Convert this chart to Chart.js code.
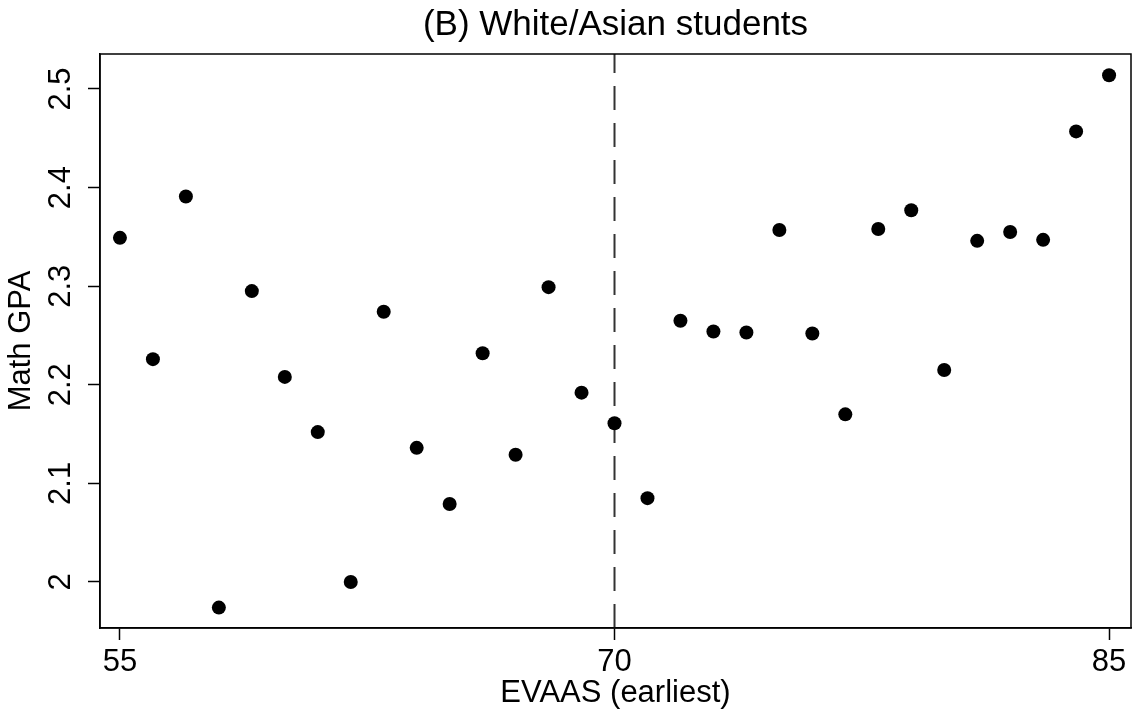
<!DOCTYPE html>
<html>
<head>
<meta charset="utf-8">
<script src="https://cdn.jsdelivr.net/npm/chart.js@4.4.1/dist/chart.umd.min.js"></script>
<style>
  html, body { margin: 0; padding: 0; background: #fff; }
</style>
</head>
<body>
<canvas id="grafico" width="1138" height="716"></canvas>
<script>
// EVAAS (earliest) bins and mean Math GPA per bin
const evaas = [55, 56, 57, 58, 59, 60, 61, 62, 63, 64, 65, 66, 67, 68, 69, 70,
  71, 72, 73, 74, 75, 76, 77, 78, 79, 80, 81, 82, 83, 84, 85];
const mathGpa = [2.349, 2.226, 2.391, 1.974, 2.295, 2.208, 2.152, 2.000, 2.274, 2.136,
  2.079, 2.232, 2.129, 2.299, 2.192, 2.161, 2.085, 2.265, 2.254, 2.253, 2.357,
  2.252, 2.170, 2.358, 2.377, 2.215, 2.346, 2.355, 2.347, 2.457, 2.514];
const corte = 70;
const xTicks = [55, 70, 85];
const yTicks = [2, 2.1, 2.2, 2.3, 2.4, 2.5];

const fonte = "'Liberation Sans', Arial, Helvetica, sans-serif";

// linha tracejada no corte + moldura do gráfico
const extras = {
  id: "extras",
  beforeDatasetsDraw(chart) {
    const { ctx, chartArea, scales } = chart;
    const x = scales.x.getPixelForValue(corte);
    ctx.save();
    ctx.strokeStyle = "#333";
    ctx.lineWidth = 2;
    ctx.setLineDash([24, 13]);
    ctx.beginPath();
    ctx.moveTo(x, chartArea.bottom);
    ctx.lineTo(x, chartArea.top);
    ctx.stroke();
    ctx.restore();
  },
  afterDraw(chart) {
    const { ctx, chartArea } = chart;
    ctx.save();
    ctx.strokeStyle = "#000";
    ctx.lineWidth = 1.5;
    ctx.strokeRect(chartArea.left, chartArea.top, chartArea.right - chartArea.left, chartArea.bottom - chartArea.top);
    ctx.restore();
  }
};

const pontos = evaas.map((x, i) => ({ x: x, y: mathGpa[i] }));

new Chart(document.getElementById("grafico"), {
  type: "scatter",
  data: {
    datasets: [{
      data: pontos,
      backgroundColor: "#000",
      borderWidth: 0,
      pointRadius: 7,
      pointHoverRadius: 7
    }]
  },
  options: {
    responsive: false,
    animation: false,
    devicePixelRatio: 1,
    layout: { padding: { left: 0, right: 3, top: 0, bottom: 0 } },
    plugins: {
      legend: { display: false },
      tooltip: { enabled: false },
      title: {
        display: true,
        fullSize: false,
        text: "(B) White/Asian students",
        color: "#000",
        font: { family: fonte, size: 35, weight: "normal" },
        padding: { top: 4, bottom: 8 }
      }
    },
    scales: {
      x: {
        type: "linear",
        min: 54.395,
        max: 85.665,
        afterBuildTicks: (s) => { s.ticks = xTicks.map(v => ({ value: v })); },
        afterFit: (s) => { s.height = 88; s.paddingLeft = 0; s.paddingRight = 0; },
        grid: { display: true, drawOnChartArea: false, drawTicks: true, tickLength: 12, tickColor: "#000", tickWidth: 1.5 },
        border: { display: true, color: "#000", width: 1.5 },
        ticks: { color: "#000", font: { family: fonte, size: 31 }, padding: 4, maxRotation: 0 },
        title: { display: true, text: "EVAAS (earliest)", color: "#000", font: { family: fonte, size: 31 }, padding: { top: 0, bottom: 4 } }
      },
      y: {
        type: "linear",
        min: 1.9533,
        max: 2.5355,
        afterBuildTicks: (s) => { s.ticks = yTicks.map(v => ({ value: v })); },
        afterFit: (s) => { s.width = 100; s.paddingTop = 0; s.paddingBottom = 0; },
        grid: { display: true, drawOnChartArea: false, drawTicks: true, tickLength: 12, tickColor: "#000", tickWidth: 1.5 },
        border: { display: true, color: "#000", width: 1.5 },
        ticks: {
          color: "#000",
          font: { family: fonte, size: 31 },
          padding: 5,
          minRotation: 90,
          maxRotation: 90,
          crossAlign: "center",
          callback: (v) => String(Math.round(v * 10) / 10)
        },
        title: { display: true, text: "Math GPA", color: "#000", font: { family: fonte, size: 31 }, padding: { top: 3, bottom: 0 } }
      }
    }
  },
  plugins: [extras]
});
</script>
</body>
</html>
